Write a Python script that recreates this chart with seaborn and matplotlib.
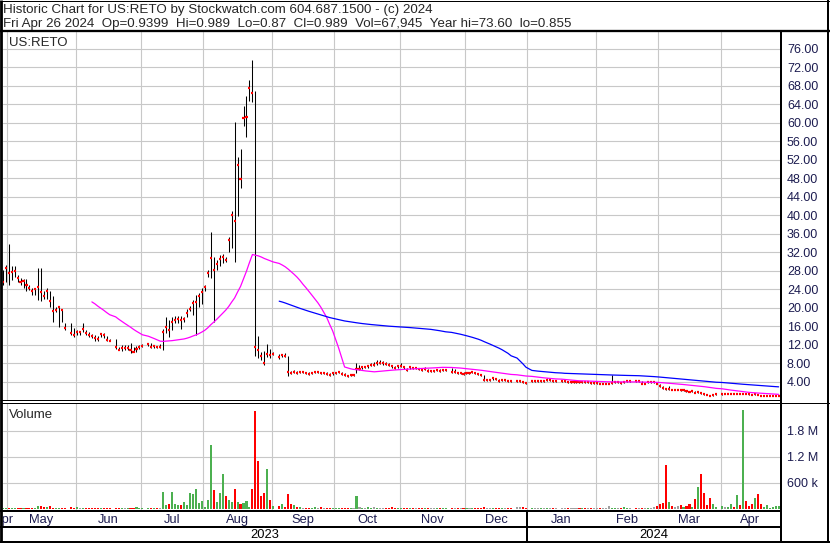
import numpy as np
import pandas as pd
import matplotlib
matplotlib.use("Agg")
import matplotlib.pyplot as plt
from matplotlib.lines import Line2D
import seaborn as sb

sb.set_style("white")
plt.rcParams['font.family'] = ['Liberation Sans', 'DejaVu Sans']

W, H = 830, 543

# every weekday has a slot on the chart, market holidays stay empty
weekdays = pd.bdate_range("2023-04-27", "2024-04-26")
holidays = pd.to_datetime(["2023-05-29", "2023-06-19", "2023-07-04", "2023-09-04",
                           "2023-11-23", "2023-12-25", "2024-01-01", "2024-01-15",
                           "2024-02-19", "2024-03-29"])

# one line per month (Apr 27 2023 .. Apr 26 2024)
close = [
    25.6, 28.5,
    27.6, 27.8, 28.0, 26.4, 25.6, 25.7, 24.9, 24.2, 23.6, 24.0, 24.5, 23.5, 22.5, 23.6, 21.5, 19.2, 19.5, 20.2, 19.5, 15.7, 14.5, 14.1,
    14.8, 14.8, 15.4, 14.6, 14.1, 13.8, 13.4, 13.2, 14.3, 14.0, 13.1, 12.8, 11.6, 10.9, 11.2, 11.2, 11.3, 10.9, 10.5, 11.0, 11.5,
    11.8, 12.1, 11.5, 11.8, 11.5, 11.5, 14.7, 15.8, 15.2, 17.0, 17.4, 17.5, 17.4, 17.5, 18.8, 19.7, 21.1, 21.2, 22.5, 23.5,
    24.4, 27.6, 30.8, 28.1, 29.4, 30.5, 30.9, 30.3, 34.6, 40.1, 38.7, 50.8, 47.9, 61.0, 61.3, 67.6, 66.5, 11.4, 10.9, 9.5, 8.0, 10.0, 9.8,
    10.0, 9.3, 9.7, 9.6, 6.2, 5.9, 6.2, 5.9, 6.0, 6.0, 5.9, 5.7, 5.9, 6.0, 6.0, 5.9, 5.9, 5.7, 5.4, 5.8,
    5.9, 6.0, 5.7, 5.4, 5.2, 5.4, 5.4, 6.8, 6.8, 7.2, 7.2, 7.3, 7.7, 7.7, 8.0, 8.0, 8.0, 7.9, 7.7, 7.3, 7.0, 7.3,
    7.4, 7.2, 6.6, 7.2, 7.0, 7.0, 6.8, 6.6, 6.8, 6.4, 6.4, 6.4, 6.6, 6.4, 6.5, 6.6, 6.1, 6.1, 5.9, 5.9, 5.7,
    5.9, 5.9, 6.1, 5.9, 5.7, 5.4, 4.4, 4.4, 4.4, 4.8, 4.6, 4.2, 4.4, 4.4, 4.2, 4.1, 4.1, 4.1, 4.0, 3.7,
    4.1, 4.1, 4.1, 4.2, 4.2, 4.4, 4.4, 4.1, 4.1, 4.1, 4.1, 4.0, 4.0, 4.0, 4.0, 3.9, 4.0, 3.9, 3.9, 3.8, 3.8,
    3.8, 3.6, 3.6, 3.6, 3.6, 3.7, 3.9, 3.9, 3.8, 3.9, 4.2, 4.2, 4.1, 4.1, 3.6, 3.6, 3.9, 3.9, 3.9, 3.6,
    3.0, 2.6, 2.4, 2.5, 2.2, 2.2, 2.2, 2.1, 2.15, 1.9, 1.85, 1.9, 1.6, 1.7, 1.5, 1.25, 1.2, 1.0, 1.2, 1.25,
    1.30, 1.30, 1.32, 1.35, 1.30, 1.35, 1.30, 1.38, 1.30, 1.28, 1.20, 1.25, 1.10, 0.92, 0.94, 0.95, 0.96, 0.965, 0.97, 0.989,
]
high = [
    28.1, 29.2,
    33.7, 29.1, 29.1, 27.1, 26.4, 26.2, 26.2, 24.9, 24.2, 24.2, 28.5, 28.6, 23.6, 24.2, 23.6, 22.5, 20.2, 20.4, 19.7, 16.6, 16.6, 15.7,
    15.2, 15.0, 16.6, 15.2, 14.8, 14.3, 14.1, 13.8, 14.6, 14.6, 13.8, 13.2, 13.2, 11.6, 12.0, 11.9, 12.0, 12.4, 11.5, 11.8, 12.0,
    12.1, 12.4, 12.3, 12.0, 11.7, 12.1, 15.4, 18.1, 17.4, 18.1, 18.2, 18.2, 18.2, 18.1, 19.7, 20.3, 21.7, 22.7, 23.2, 24.2,
    24.9, 28.2, 36.3, 31.0, 30.4, 31.3, 31.7, 31.0, 35.2, 41.0, 60.2, 52.7, 54.4, 63.7, 65.7, 69.2, 73.6, 66.9, 13.8, 10.4, 10.6, 12.1, 11.0,
    10.4, 10.0, 10.0, 10.1, 9.6, 6.4, 6.5, 6.3, 6.2, 6.3, 6.2, 6.0, 6.2, 6.3, 6.2, 6.2, 6.1, 6.0, 5.8, 6.0,
    6.1, 6.2, 6.0, 5.8, 5.5, 5.6, 5.7, 8.0, 7.6, 7.5, 7.5, 7.7, 8.1, 8.3, 8.6, 8.6, 8.4, 8.3, 8.0, 7.7, 7.4, 7.6,
    8.0, 7.5, 7.0, 7.4, 7.2, 7.2, 7.0, 6.9, 7.2, 6.7, 6.6, 6.6, 6.8, 6.7, 6.7, 6.8, 6.9, 6.8, 6.1, 6.2, 6.0,
    6.1, 6.1, 6.3, 6.1, 5.9, 5.7, 5.4, 4.6, 4.6, 5.0, 4.8, 4.6, 4.6, 4.6, 4.4, 4.3, 4.3, 4.3, 4.2, 4.0,
    4.3, 4.3, 4.3, 4.4, 4.4, 4.8, 4.6, 4.3, 4.3, 4.3, 4.3, 4.2, 4.2, 4.2, 4.2, 4.1, 4.2, 4.1, 4.1, 4.0, 4.0,
    4.0, 3.8, 3.8, 3.8, 3.8, 5.5, 4.1, 4.1, 4.0, 4.1, 4.4, 4.4, 4.3, 4.3, 4.1, 3.8, 4.1, 4.1, 4.1, 3.9,
    3.6, 3.0, 2.7, 3.0, 2.5, 2.4, 2.4, 2.3, 2.3, 2.1, 2.0, 2.1, 1.9, 2.0, 1.8, 1.5, 1.4, 1.2, 1.4, 1.4,
    1.40, 1.40, 1.40, 1.45, 1.40, 1.50, 1.40, 1.60, 1.45, 1.35, 1.30, 1.35, 1.25, 1.10, 1.00, 1.00, 1.00, 1.00, 1.00, 0.989,
]
low = [
    25.0, 25.6,
    24.9, 26.0, 26.6, 25.6, 24.9, 24.3, 23.6, 23.8, 22.8, 22.8, 21.7, 21.5, 21.8, 21.8, 20.2, 17.0, 19.0, 15.9, 17.0, 15.2, 14.1, 13.7,
    14.2, 14.1, 14.8, 14.1, 13.7, 13.4, 12.8, 12.7, 13.6, 13.4, 12.9, 12.7, 11.0, 10.9, 10.7, 10.9, 10.9, 10.2, 10.4, 10.5, 11.1,
    11.6, 11.7, 11.3, 11.3, 11.3, 11.3, 10.9, 14.5, 13.6, 15.2, 16.7, 16.8, 15.5, 17.0, 18.1, 19.2, 18.5, 14.1, 20.1, 20.9,
    23.6, 26.7, 26.5, 17.0, 28.1, 29.0, 29.6, 29.9, 32.1, 33.0, 29.8, 39.8, 45.9, 59.4, 56.9, 64.8, 64.5, 9.5, 9.2, 8.8, 7.7, 9.4, 9.1,
    9.8, 8.9, 9.4, 9.4, 5.2, 5.7, 5.8, 5.7, 5.8, 5.8, 5.7, 5.5, 5.7, 5.8, 5.8, 5.7, 5.7, 5.4, 5.2, 5.4,
    5.7, 5.8, 5.5, 5.2, 5.0, 5.2, 5.2, 5.9, 6.5, 6.8, 6.9, 7.0, 7.3, 7.5, 7.7, 7.8, 7.7, 7.6, 7.3, 7.0, 6.8, 7.0,
    7.1, 6.8, 6.4, 6.8, 6.8, 6.7, 6.5, 6.4, 6.5, 6.2, 6.2, 6.2, 6.4, 6.2, 6.3, 6.3, 5.9, 5.9, 5.7, 5.7, 5.5,
    5.7, 5.7, 5.9, 5.7, 5.5, 5.2, 4.2, 4.2, 4.2, 4.4, 4.4, 4.0, 4.2, 4.2, 4.0, 3.9, 3.9, 3.9, 3.8, 3.6,
    3.9, 3.9, 3.9, 4.0, 4.0, 4.2, 4.2, 3.9, 3.9, 3.9, 3.9, 3.8, 3.8, 3.8, 3.8, 3.7, 3.8, 3.7, 3.7, 3.6, 3.6,
    3.6, 3.4, 3.4, 3.4, 3.4, 3.5, 3.7, 3.7, 3.6, 3.7, 4.0, 4.0, 3.9, 3.9, 3.4, 3.4, 3.7, 3.7, 3.7, 3.4,
    2.9, 2.5, 2.2, 2.3, 2.1, 2.1, 2.1, 2.0, 2.0, 1.8, 1.7, 1.7, 1.5, 1.5, 1.4, 1.2, 1.1, 0.9, 1.0, 1.1,
    1.20, 1.25, 1.25, 1.28, 1.25, 1.25, 1.25, 1.25, 1.25, 1.20, 1.15, 1.15, 1.05, 0.855, 0.90, 0.90, 0.90, 0.90, 0.90, 0.87,
]
# volume in thousands of shares
volume_k = [
    25, 20,
    20, 25, 18, 22, 20, 25, 22, 20, 18, 22, 60, 55, 40, 35, 60, 25, 20, 22, 18, 20, 40, 20,
    35, 20, 22, 18, 20, 22, 18, 20, 22, 25, 20, 22, 18, 20, 25, 22, 20, 18, 22, 40, 20,
    20, 22, 25, 20, 22, 25, 390, 78, 110, 390, 110, 78, 78, 156, 78, 367, 343, 460, 133, 187,
    47, 203, 1470, 437, 156, 367, 811, 296, 203, 156, 460, 156, 110, 133, 187, 47, 460, 2250, 1090, 296, 367, 905, 203,
    62, 62, 110, 40, 343, 110, 85, 40, 30, 25, 22, 20, 25, 40, 22, 40, 20, 25, 22, 20,
    20, 25, 22, 20, 18, 22, 25, 296, 40, 22, 25, 40, 22, 40, 20, 22, 25, 20, 22, 40, 20, 22,
    25, 20, 22, 18, 20, 22, 25, 20, 18, 22, 20, 25, 22, 20, 18, 20, 22, 25, 20, 22, 20,
    22, 20, 25, 18, 20, 22, 30, 25, 20, 22, 18, 20, 22, 25, 20, 22, 40, 35, 40, 20,
    22, 20, 25, 18, 20, 22, 25, 20, 22, 18, 20, 22, 25, 20, 22, 18, 20, 22, 25, 20, 22,
    25, 20, 22, 18, 62, 25, 20, 22, 22, 40, 20, 25, 18, 22, 25, 20, 22, 25, 40, 62,
    110, 133, 1000, 156, 62, 40, 62, 85, 40, 62, 110, 40, 226, 507, 811, 367, 85, 250, 110, 40,
    62, 40, 40, 110, 40, 320, 85, 2280, 187, 62, 110, 250, 343, 110, 40, 85, 20, 40, 62, 68,
]

price_ticks = np.arange(4, 77, 4)
vol_ticks = [600000, 1200000, 1800000]
vol_labels = ["600 k", "1.2 M", "1.8 M"]

header1 = "Historic Chart for US:RETO by Stockwatch.com 604.687.1500 - (c) 2024"
header2 = ("Fri Apr 26 2024  Op=0.9399  Hi=0.989  Lo=0.87  Cl=0.989  "
           "Vol=67,945  Year hi=73.60  lo=0.855")

days = weekdays[~weekdays.isin(holidays)]
df = pd.DataFrame({"date": days, "close": close, "high": high, "low": low,
                   "volume": np.array(volume_k) * 1000.0})
df["slot"] = weekdays.get_indexer(days)
df["ma30"] = df["close"].rolling(30).mean()
df["ma90"] = df["close"].rolling(90).mean()
chg = df["close"].diff().fillna(1)
df["vcol"] = np.where(chg > 0, "#4cb050", np.where(chg < 0, "#ff0000", "#a0a0a0"))

def fx(px):
    return px / W

def fy(py):
    return 1 - py / H

x0_px, dx_px = 2.7, 2.973

def slot_of(px):
    return (px - x0_px) / dx_px

xlim = (slot_of(3), slot_of(780))
month_starts = pd.date_range("2023-04-01", "2024-04-01", freq="MS")
month_pos = [weekdays.searchsorted(m) - 0.5 for m in month_starts]

txt_col = "#1c1c50"
grid_col = "#c8c8c8"

fig = plt.figure(figsize=(W / 100, H / 100), dpi=100)
fig.patch.set_facecolor("white")

# price panel
ax = fig.add_axes([fx(3), fy(399.5), fx(780) - fx(3), (399.5 - 31.7) / H])
ax.vlines(df["slot"], df["low"], df["high"], color="black", lw=0.75, zorder=2)
ax.hlines(df["close"], df["slot"] - 0.35, df["slot"] + 0.35, color="#ff0000",
          lw=1.6, zorder=3)
sb.lineplot(data=df.dropna(subset=["ma30"]), x="slot", y="ma30", color="#ff00ff",
            lw=0.9, estimator=None, ax=ax, zorder=4)
sb.lineplot(data=df.dropna(subset=["ma90"]), x="slot", y="ma90", color="#0000ff",
            lw=0.9, estimator=None, ax=ax, zorder=4)
ax.set_xlim(xlim)
ax.set_ylim(0.15, 79.7)
ax.set_yticks(price_ticks)
ax.set_yticklabels(["%.2f" % v for v in price_ticks])
ax.yaxis.tick_right()
ax.set_xticks(month_pos[1:])
ax.set_xticklabels([])
ax.tick_params(length=0, labelsize=9, labelcolor=txt_col, pad=5)
ax.grid(True, color=grid_col, lw=0.8)
ax.set_axisbelow(True)
ax.set_xlabel("")
ax.set_ylabel("")
for s in ax.spines.values():
    s.set_visible(False)
ax.text(0.008, 0.962, "US:RETO", transform=ax.transAxes, fontsize=9.5,
        va="baseline", ha="left")

# volume panel
vax = fig.add_axes([fx(3), fy(510), fx(780) - fx(3), (510 - 403) / H])
vax.bar(df["slot"], df["volume"], width=0.7, color=df["vcol"], lw=0, zorder=2)
vax.set_xlim(xlim)
vax.set_ylim(-30000, 2.44e6)
vax.set_yticks(vol_ticks)
vax.set_yticklabels(vol_labels)
vax.yaxis.tick_right()
vax.set_xticks(month_pos[1:])
vax.set_xticklabels([])
vax.tick_params(length=0, labelsize=9, labelcolor=txt_col, pad=5)
vax.grid(True, color=grid_col, lw=0.8)
vax.set_axisbelow(True)
for s in vax.spines.values():
    s.set_visible(False)
vax.text(0.008, 0.86, "Volume", transform=vax.transAxes, fontsize=9.5,
         va="baseline", ha="left")

# month row
mx = fig.add_axes([fx(3), fy(527), fx(780) - fx(3), (527 - 510.5) / H])
mx.set_xlim(xlim)
mx.set_ylim(0, 1)
mx.axis("off")
edges = month_pos + [xlim[1]]
for i, m in enumerate(month_starts):
    t = mx.text((edges[i] + edges[i + 1]) / 2, 0.45, m.strftime("%b"), ha="center",
                va="center", fontsize=9.3, color=txt_col, clip_on=True)
    t.set_clip_path(mx.patch)

# year row
jan_pos = month_pos[list(month_starts).index(pd.Timestamp("2024-01-01"))]
yx = fig.add_axes([fx(3), fy(542), fx(780) - fx(3), (542 - 527) / H])
yx.set_xlim(xlim)
yx.set_ylim(0, 1)
yx.axis("off")
yx.text((xlim[0] + jan_pos) / 2, 0.45, "2023", ha="center", va="center",
        fontsize=9.3, color="black")
yx.text((jan_pos + xlim[1]) / 2, 0.45, "2024", ha="center", va="center",
        fontsize=9.3, color="black")

fig.text(fx(3), fy(12.7), header1, fontsize=9.65, va="baseline", ha="left")
fig.text(fx(3), fy(26.7), header2, fontsize=9.65, va="baseline", ha="left")

# frame lines, pixel coordinates from the top left corner
def hline(y, xa, xb, lw):
    fig.add_artist(Line2D([fx(xa), fx(xb)], [fy(y), fy(y)], color="black",
                          lw=lw * 0.72, solid_capstyle="butt"))

def vline(x, ya, yb, lw):
    fig.add_artist(Line2D([fx(x), fx(x)], [fy(ya), fy(yb)], color="black",
                          lw=lw * 0.72, solid_capstyle="butt"))

hline(0.5, 0, 830, 1)
hline(30.5, 0, 830, 2.3)
vline(1.4, 0, 543, 2.8)
vline(828.3, 0, 543, 2)
vline(781, 30, 542, 2)
hline(400, 0, 781, 1)
hline(402.5, 0, 830, 1)
hline(510.5, 0, 781, 2)
hline(527, 0, 781, 2)
hline(542, 0, 830, 2)
vline(x0_px + jan_pos * dx_px, 510, 542, 2)

fig.savefig("out.png", dpi=100)
